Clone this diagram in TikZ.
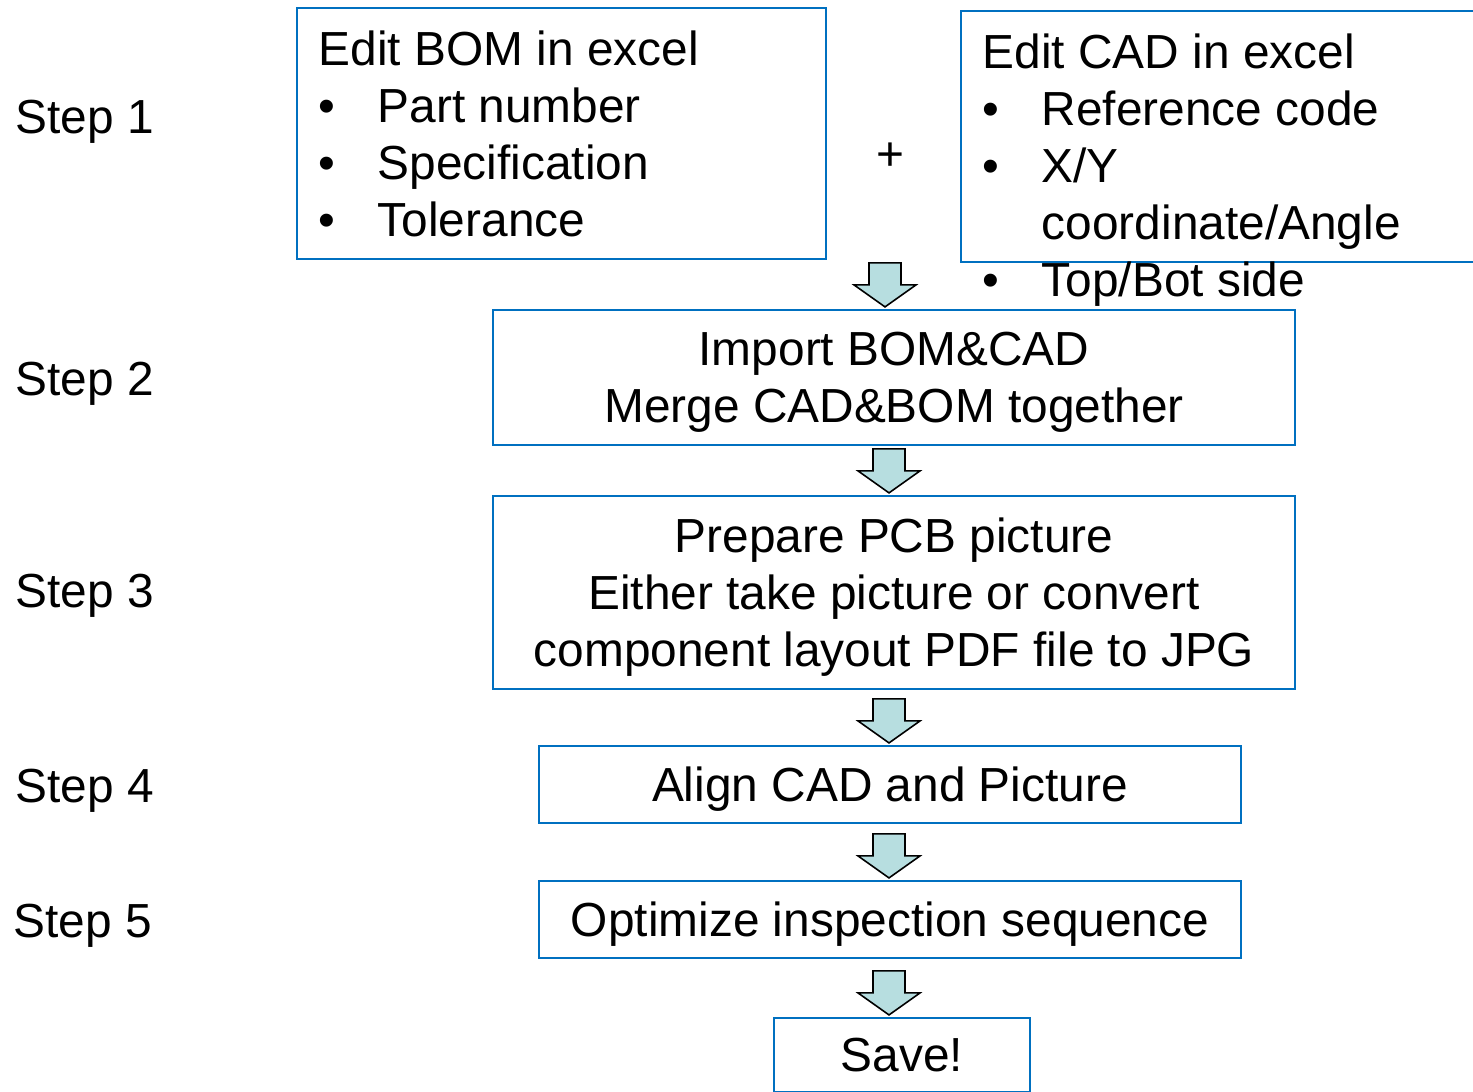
\documentclass[tikz,border=0pt]{standalone}
\usepackage{fontspec}
\setmainfont{Liberation Sans}
\usetikzlibrary{calc}
\definecolor{boxblue}{HTML}{0070C0}
\definecolor{arrowfill}{HTML}{B7DEE0}
\newcommand{\itm}{\makebox[16.8pt][l]{\textbullet}}
\newcommand{\flowarrow}[1]{\draw[flowarr] #1 -- ++(-31,-22) -- ++(15,0) -- ++(0,-22) -- ++(32,0) -- ++(0,22) -- ++(15,0) -- cycle;}

\begin{document}
\begin{tikzpicture}[x=0.01cm, y=-0.01cm,
    every node/.style={font=\fontsize{13.6pt}{16.2pt}\selectfont},
    stepbox/.style={draw=boxblue, line width=0.6pt, rectangle, inner sep=0pt, align=center, text depth=0pt},
    txt/.style={inner sep=0pt, align=left},
    flowarr/.style={draw=black, line width=0.45pt, fill=arrowfill, line join=miter}]
    \useasboundingbox (0,0) rectangle (1473,1091);
    \clip (0,0) rectangle (1473,1091);
    % Step labels
    \node[anchor=base west, inner sep=0pt] (s1) at (15,134) {Step 1};
    \node[anchor=base west, inner sep=0pt] (s2) at (15,395) {Step 2};
    \node[anchor=base west, inner sep=0pt] (s3) at (15,607) {Step 3};
    \node[anchor=base west, inner sep=0pt] (s4) at (15,802) {Step 4};
    \node[anchor=base west, inner sep=0pt] (s5) at (13,937) {Step 5};

    % Step 1
    \node[stepbox, minimum width=5.29cm, minimum height=2.51cm] (bom) at (561.5,133.5) {};
    \node[txt, anchor=west] (bomtxt) at (318,134) {Edit BOM in excel\\\itm Part number\\\itm Specification\\\itm Tolerance};
    \node[inner sep=0pt] (plus) at (890,157) {+};
    \node[stepbox, minimum width=5.49cm, minimum height=2.51cm] (cad) at (1235.5,136.5) {};
    \node[txt, anchor=west] (cadtxt) at (982,170) {Edit CAD in excel\\\itm Reference code\\\itm X/Y\\\hspace*{16.8pt}coordinate/Angle\\\itm Top/Bot side};

    % Steps 2-5
    \node[stepbox, minimum width=8.02cm, minimum height=1.35cm] (imp) at (894,377.5) {Import BOM\&CAD\\Merge CAD\&BOM together};
    \node[stepbox, minimum width=8.02cm, minimum height=1.93cm] (pcb) at (894,592.5) {Prepare PCB picture\\Either take picture or convert\\component layout PDF file to JPG};
    \node[stepbox, minimum width=7.02cm, minimum height=0.77cm] (align) at (890,784.5) {Align CAD and Picture};
    \node[stepbox, minimum width=7.02cm, minimum height=0.77cm] (opt) at (890,919.5) {Optimize inspection sequence};
    \node[stepbox, minimum width=2.56cm, minimum height=0.74cm] (save) at (902,1055) {Save!};

    % Arrows
    \flowarrow{($(imp.north)+(-9,-2)$)}
    \flowarrow{($(pcb.north)+(-5,-2)$)}
    \flowarrow{($(align.north)+(-1,-2)$)}
    \flowarrow{($(opt.north)+(-1,-2)$)}
    \flowarrow{($(save.north)+(-13,-2)$)}
\end{tikzpicture}
\end{document}
